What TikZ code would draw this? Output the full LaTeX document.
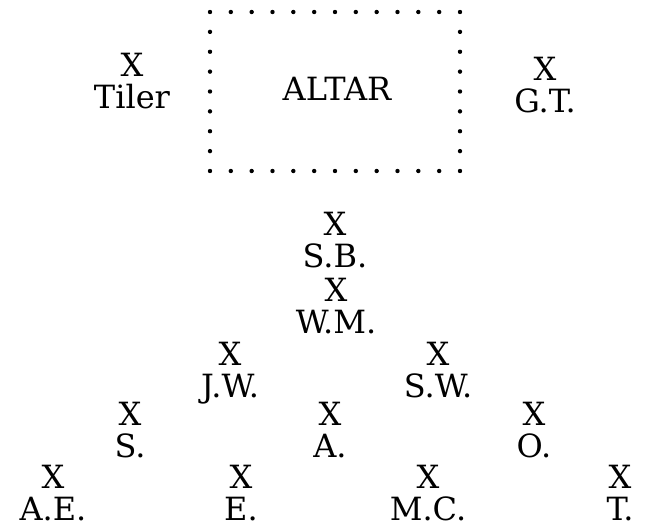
\documentclass[tikz,border=0pt]{standalone}
\usepackage{fontspec}
\setmainfont{DejaVu Serif}
\usetikzlibrary{positioning}
\begin{document}
\begin{tikzpicture}[x=0.5pt,y=-0.5pt,
	officer/.style={align=center,inner sep=0pt,anchor=north,font=\fontsize{16}{16}\selectfont}]
	\useasboundingbox (0,0) rectangle (645,530);
	% the altar, ringed with dots
	\node[officer,anchor=base] (altar) at (337,100) {ALTAR};
	\foreach \i in {0,...,12} {
		\fill ({210+\i*250/12},12) circle (1.1pt);
		\fill ({210+\i*250/12},171) circle (1.1pt);
	}
	\foreach \j in {1,...,7} {
		\fill (210,{12+\j*159/8}) circle (1.1pt);
		\fill (460,{12+\j*159/8}) circle (1.1pt);
	}
	% officers
	\node[officer] (tiler) at (132,53) {X\\Tiler};
	\node[officer] (gt) at (545,57) {X\\G.T.};
	\node[officer] (sb) at (335,212) {X\\S.B.};
	\node[officer] (wm) at (336,278) {X\\W.M.};
	\node[officer] (jw) at (230,342) {X\\J.W.};
	\node[officer] (sw) at (438,342) {X\\S.W.};
	\node[officer] (s) at (130,402) {X\\S.};
	\node[officer] (a) at (330,402) {X\\A.};
	\node[officer] (o) at (534,402) {X\\O.};
	\node[officer] (ae) at (53,465) {X\\A.E.};
	\node[officer] (e) at (241,465) {X\\E.};
	\node[officer] (mc) at (428,465) {X\\M.C.};
	\node[officer] (t) at (620,465) {X\\T.};
\end{tikzpicture}
\end{document}
